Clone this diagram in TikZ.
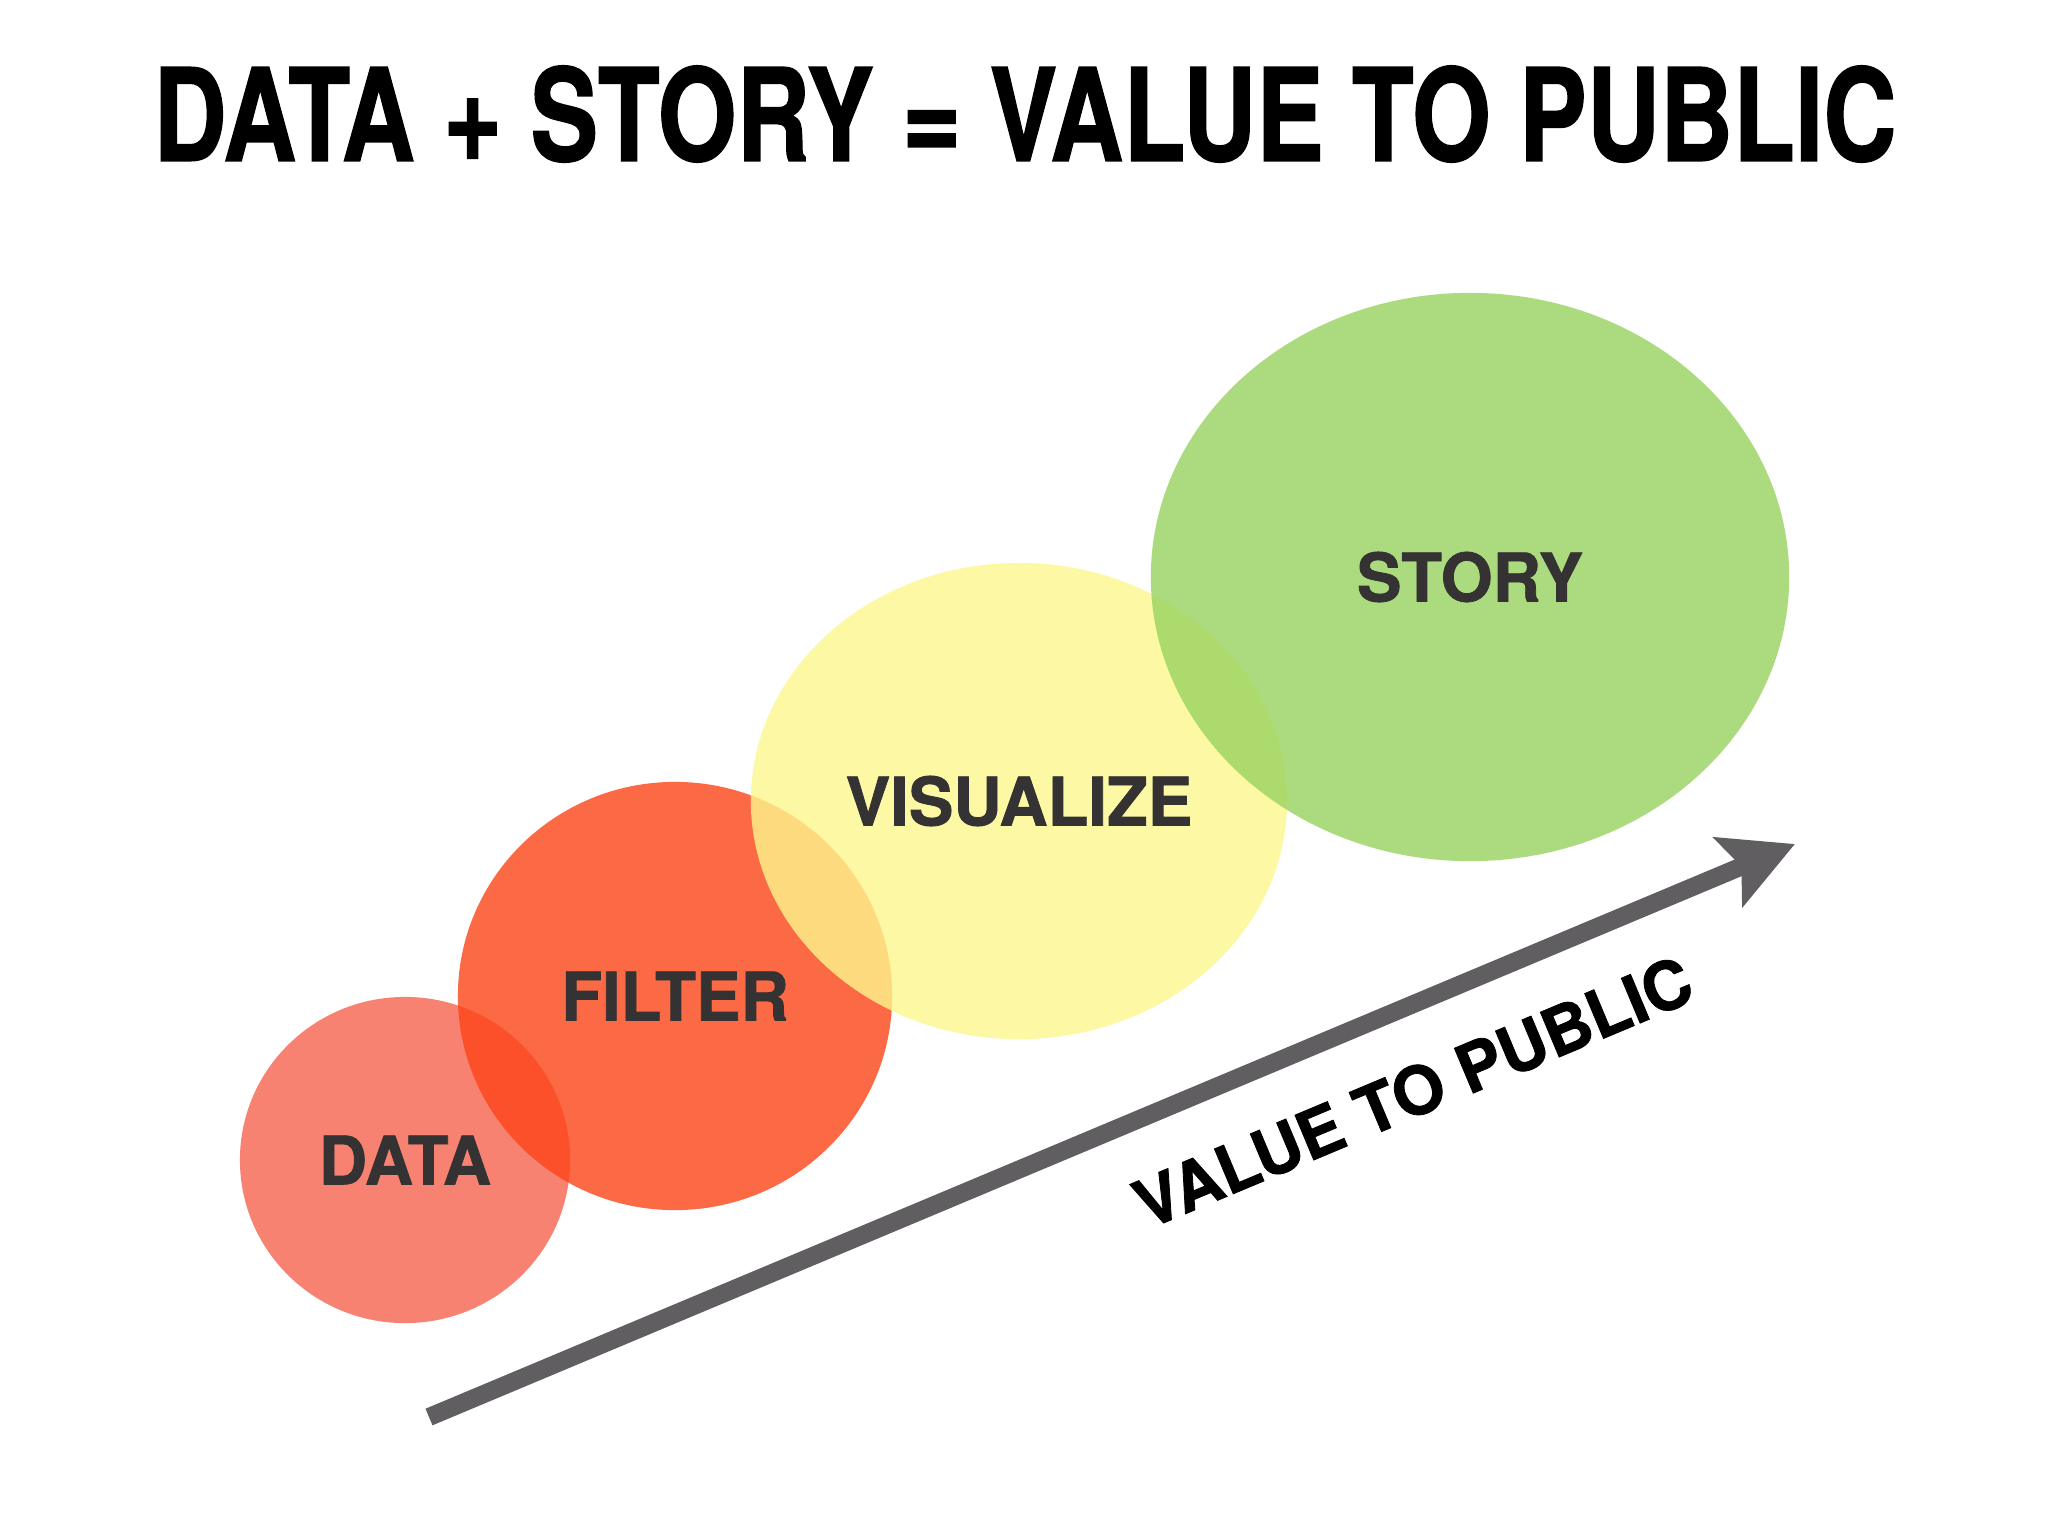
\documentclass[tikz,border=0pt]{standalone}
\usepackage{fontspec}
\setmainfont{TeX Gyre Heros}
\newfontfamily\heavyfont[FakeBold=1.2]{TeX Gyre Heros}
\usetikzlibrary{shapes.geometric,arrows.meta}
\definecolor{dataC}{RGB}{247,99,79}
\definecolor{filterC}{RGB}{252,68,23}
\definecolor{visC}{RGB}{252,247,140}
\definecolor{storyC}{RGB}{152,211,96}
\definecolor{labelgray}{RGB}{52,50,50}
\definecolor{arrowgray}{RGB}{96,94,97}
\begin{document}
\begin{tikzpicture}[x=0.01cm,y=-0.01cm,
  bubble/.style={ellipse, draw=none, inner sep=0pt, fill opacity=0.8, text opacity=1,
    text=labelgray, font=\heavyfont\bfseries\fontsize{19}{21}\selectfont},
  axislabel/.style={inner sep=0pt, text=black, font=\heavyfont\bfseries\fontsize{19}{21}\selectfont},
  trend/.style={line width=0.18cm, draw=arrowgray,
    -{Stealth[length=0.72cm,width=0.74cm,inset=0.14cm]}}
]
\fill[white] (0,0) rectangle (2048,1536);
\useasboundingbox (0,0) rectangle (2048,1536);

\node[inner sep=0pt] (title) at (1025,114)
  {\resizebox{17.42cm}{0.95cm}{\heavyfont\bfseries DATA + STORY = VALUE TO PUBLIC}};

\node[bubble, fill=dataC, minimum width=3.30cm, minimum height=3.26cm] (data) at (405,1160) {DATA};
\node[bubble, fill=filterC, minimum width=4.34cm, minimum height=4.28cm] (filter) at (675,996) {FILTER};
\node[bubble, fill=visC, minimum width=5.36cm, minimum height=4.76cm] (vis) at (1019,801) {VISUALIZE};
\node[bubble, fill=storyC, minimum width=6.38cm, minimum height=5.68cm] (story) at (1470,577) {STORY};

\coordinate (tail) at (429,1417);
\coordinate (tip) at (1795,844);
\draw[trend] (tail) -- (tip);

\node[axislabel, rotate=22.76] (vtp) at (1413,1092) {VALUE TO PUBLIC};
\end{tikzpicture}
\end{document}
